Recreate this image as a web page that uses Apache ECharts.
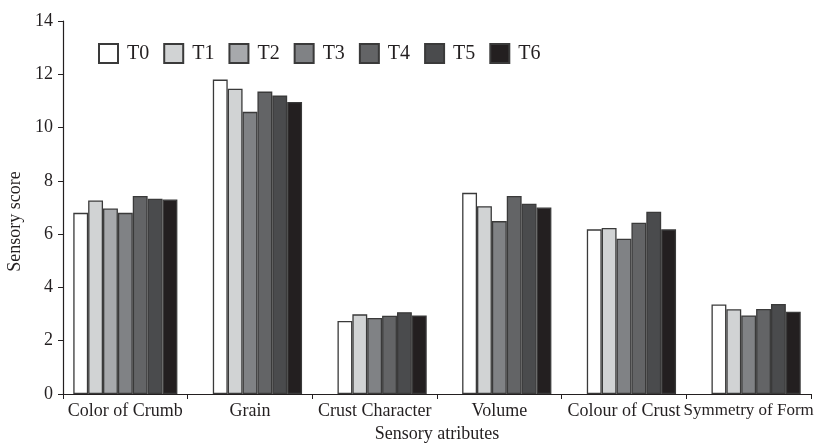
<!DOCTYPE html>
<html>
<head>
<meta charset="utf-8">
<script src="https://cdn.jsdelivr.net/npm/echarts@6/dist/echarts.min.js"></script>
<style>html,body{margin:0;padding:0;background:#fff}#c{width:814px;height:444px}</style>
</head>
<body>
<div id="c"></div>
<script>
const categories = ['Color of Crumb', 'Grain', 'Crust Character', 'Volume', 'Colour of Crust', 'Symmetry of Form'];
const seriesNames = ['T0', 'T1', 'T2', 'T3', 'T4', 'T5', 'T6'];
const T0 = [6.80, 11.80, 2.74, 7.55, 6.18, 3.36];
const T1 = [7.26, 11.46, 2.99, 7.05, 6.23, 3.18];
const T2 = [6.96, null, null, null, null, null];
const T3 = [6.80, 10.59, 2.85, 6.49, 5.83, 2.95];
const T4 = [7.43, 11.35, 2.94, 7.43, 6.43, 3.19];
const T5 = [7.33, 11.20, 3.07, 7.14, 6.84, 3.38];
const T6 = [7.30, 10.96, 2.95, 7.00, 6.18, 3.09];
const yMin = 0, yMax = 14, yStep = 2;
const colors = ['#ffffff', '#d1d3d4', '#a7a9ac', '#808285', '#636466', '#4a4b4d', '#231f20'];

const allSeries = [T0, T1, T2, T3, T4, T5, T6];
const nSlots = allSeries.length;
// place the bars present in each category right-aligned into the slots, as in the figure
const slotData = [];
for (let s = 0; s < nSlots; s++) slotData.push(categories.map(() => '-'));
categories.forEach((c, i) => {
  const present = [];
  allSeries.forEach((arr, k) => { if (arr[i] !== null) present.push(k); });
  const offset = nSlots - present.length;
  present.forEach((k, j) => {
    slotData[offset + j][i] = { value: allSeries[k][i], itemStyle: { color: colors[k] } };
  });
});

const font = 'Liberation Serif';
const txt = '#231f20';
const catData = categories.map((c, i) =>
  i === categories.length - 1 ? { value: c, textStyle: { fontSize: 17 } } : c);
const chart = echarts.init(document.getElementById('c'));
chart.setOption({
  animation: false,
  backgroundColor: '#fff',
  grid: { left: 63, right: 3, top: 21, bottom: 50, containLabel: false, outerBoundsMode: 'none' },
  legend: {
    left: 98, top: 43, padding: 0,
    itemWidth: 19, itemHeight: 19, itemGap: 14,
    icon: 'rect',
    data: seriesNames,
    textStyle: { fontFamily: font, fontSize: 20, color: txt, padding: [0, 0, 0, 4] }
  },
  xAxis: {
    type: 'category',
    data: catData,
    name: 'Sensory atributes',
    nameLocation: 'middle',
    nameGap: 30,
    nameTextStyle: { fontFamily: font, fontSize: 18, color: txt },
    axisLine: { lineStyle: { color: txt, width: 1.2 } },
    axisTick: { show: true, alignWithLabel: false, length: 5, lineStyle: { color: txt } },
    axisLabel: { fontFamily: font, fontSize: 18, color: txt, margin: 8, interval: 0 }
  },
  yAxis: {
    type: 'value',
    min: yMin, max: yMax, interval: yStep,
    name: 'Sensory score',
    nameLocation: 'middle',
    nameGap: 32,
    nameTextStyle: { fontFamily: font, fontSize: 18, color: txt, padding: [0, 28, 0, 0] },
    axisLine: { show: true, lineStyle: { color: txt, width: 1.2 } },
    axisTick: { show: true, length: 5, lineStyle: { color: txt } },
    splitLine: { show: false },
    axisLabel: { fontFamily: font, fontSize: 18, color: txt, margin: 10 }
  },
  series: slotData.map((d, s) => ({
    name: seriesNames[s],
    type: 'bar',
    data: d,
    barGap: '0%',
    barCategoryGap: '16.5%',
    itemStyle: { color: colors[s], borderColor: '#3a3a3a', borderWidth: 1.3 }
  }))
});
</script>
</body>
</html>
